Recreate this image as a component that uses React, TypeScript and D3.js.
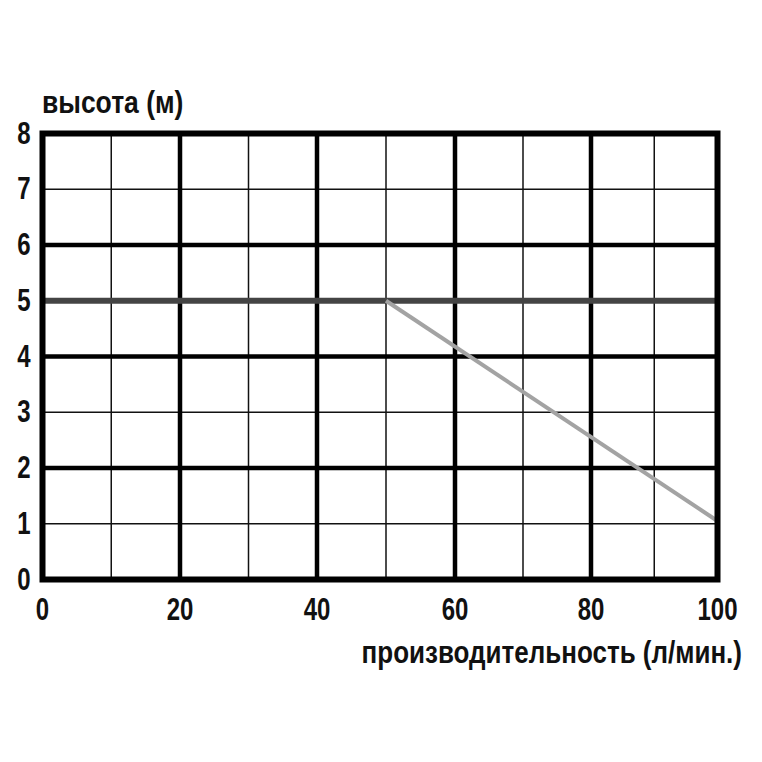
import React from "react";
import * as d3 from "d3";

const xTicks = [0, 20, 40, 60, 80, 100];
const xMinor = [10, 30, 50, 70, 90];
const yTicks = [0, 2, 4, 6, 8];
const yMinor = [1, 3, 5, 7];
const yLabels = [0, 1, 2, 3, 4, 5, 6, 7, 8];

const maxFlowX = [0, 100];
const maxFlowY = [5, 5];

const curveX = [50, 100];
const curveY = [5, 1.05];

const yTitle = "высота (м)";
const xTitle = "производительность (л/мин.)";

export default function App() {
  const W = 762, H = 762;
  // x grid in the reference is not perfectly even; polylinear scale follows it
  const x = d3.scaleLinear().domain([0, 20, 40, 60, 80, 100]).range([42.5, 180, 317, 455, 591, 717.5]);
  const y = d3.scaleLinear().domain([0, 8]).range([579.5, 133.5]);

  const line = d3.line<[number, number]>().x(d => x(d[0])).y(d => y(d[1]));
  const flatPts: [number, number][] = maxFlowX.map((v, i) => [v, maxFlowY[i]]);
  const curvePts: [number, number][] = curveX.map((v, i) => [v, curveY[i]]);

  const font = "'Liberation Sans', Arial, sans-serif";
  const txt = (key: string, tx: number, ty: number, s: string, anchor: string, size = 24) => (
    <text key={key} transform={`translate(${tx},${ty}) scale(1,${32 / size})`} textAnchor={anchor}
      fontFamily={font} fontWeight="bold" fontSize={size} fill="#111">{s}</text>
  );

  return (
    <svg width={W} height={H} style={{ position: "absolute", left: 0, top: 0, background: "#fff" }}>
      <rect width={W} height={H} fill="#fff" />
      {xMinor.map(v => (
        <line key={"xm" + v} x1={x(v)} x2={x(v)} y1={y(0)} y2={y(8)} stroke="#111" strokeWidth={1.5} />
      ))}
      {yMinor.map(v => (
        <line key={"ym" + v} x1={x(0)} x2={x(100)} y1={y(v)} y2={y(v)} stroke="#111" strokeWidth={1.5} />
      ))}
      {xTicks.slice(1, -1).map(v => (
        <line key={"xM" + v} x1={x(v)} x2={x(v)} y1={y(0)} y2={y(8)} stroke="#000" strokeWidth={4.5} />
      ))}
      {yTicks.slice(1, -1).map(v => (
        <line key={"yM" + v} x1={x(0)} x2={x(100)} y1={y(v)} y2={y(v)} stroke="#000" strokeWidth={4.5} />
      ))}
      <path d={line(flatPts) || ""} fill="none" stroke="#444" strokeWidth={6} />
      <path d={line(curvePts) || ""} fill="none" stroke="#a3a3a3" strokeWidth={4} />
      <rect x={x(0)} y={y(8)} width={x(100) - x(0)} height={y(0) - y(8)} fill="none" stroke="#000" strokeWidth={6} />
      {yLabels.map(v => txt("yl" + v, 24, y(v) + 10, String(v), "middle"))}
      {xTicks.map(v => txt("xl" + v, x(v), 620, String(v), "middle"))}
      {txt("yt", 42, 113, yTitle, "start", 26.5)}
      {txt("xt", 742, 663, xTitle, "end", 26)}
    </svg>
  );
}
